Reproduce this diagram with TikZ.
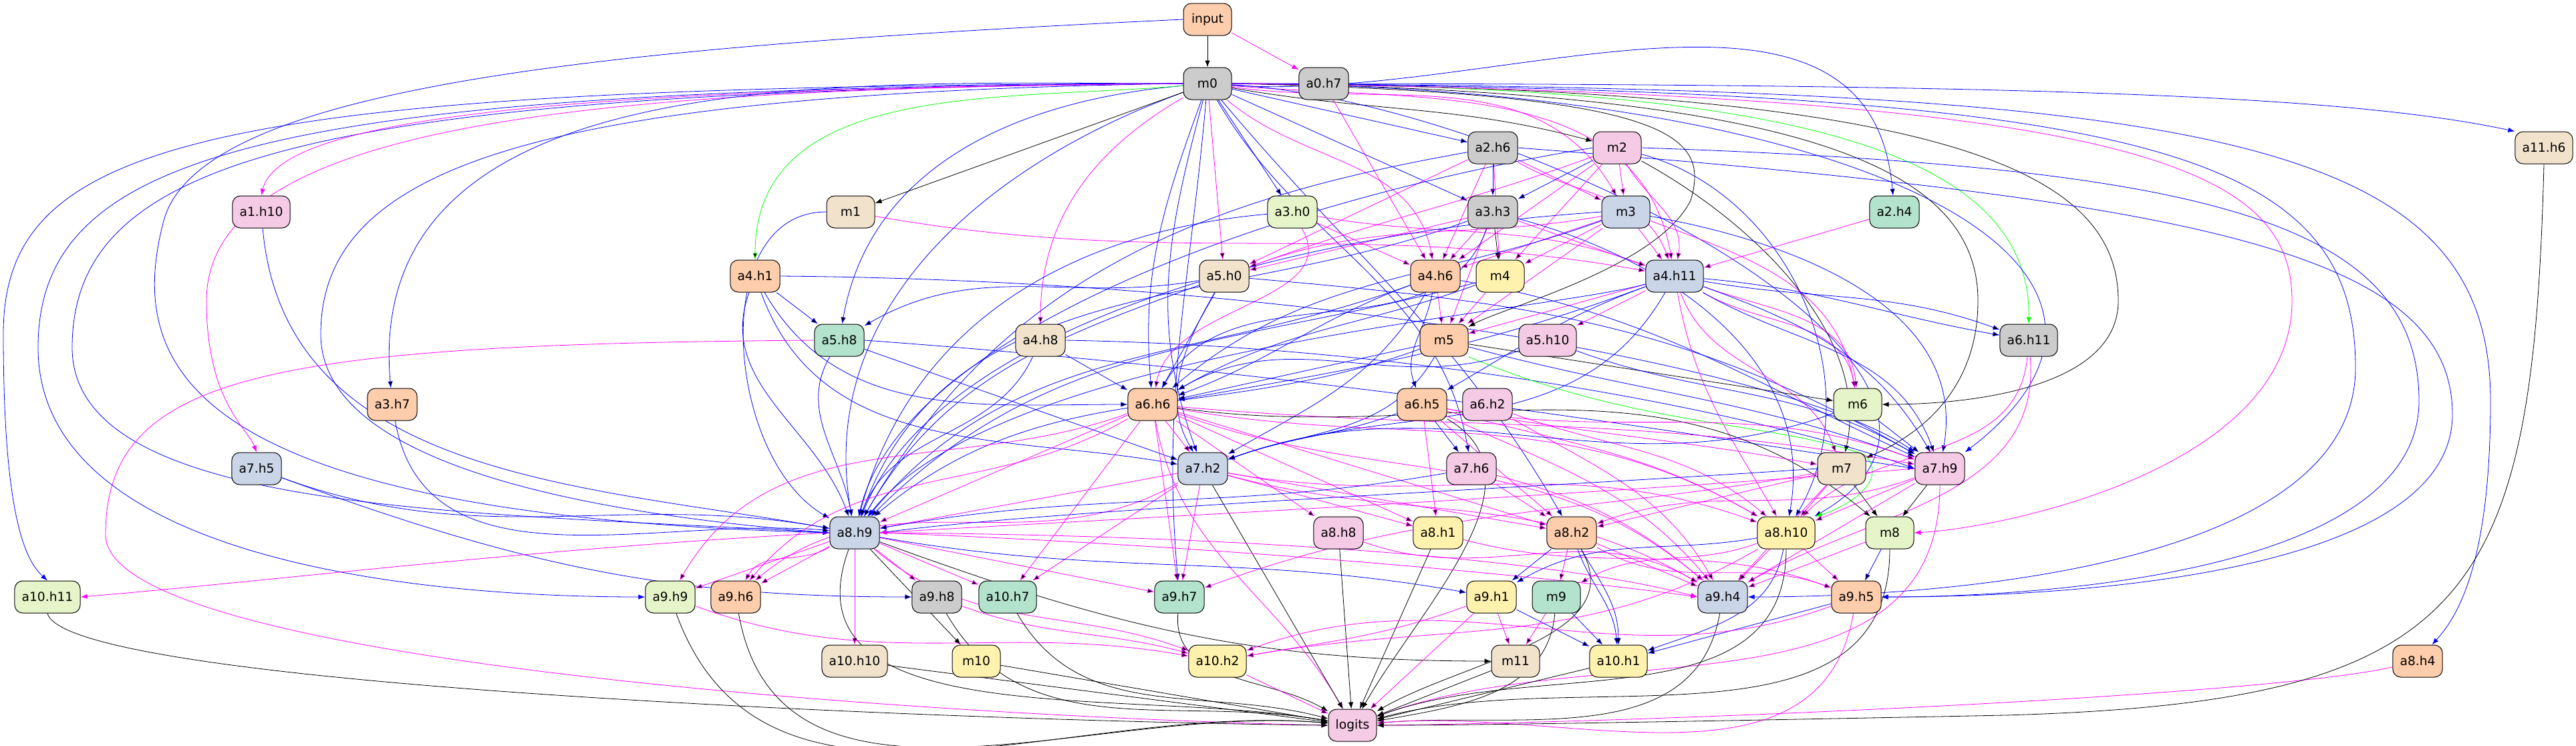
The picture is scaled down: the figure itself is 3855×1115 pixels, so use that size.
\documentclass[tikz,border=0pt]{standalone}
\usepackage{fontspec}
\setmainfont{DejaVu Sans}
\usetikzlibrary{arrows.meta, positioning, backgrounds}

\definecolor{pgreen}{HTML}{B3E2CD}
\definecolor{ppeach}{HTML}{FDCDAC}
\definecolor{pblue}{HTML}{CBD5E8}
\definecolor{ppink}{HTML}{F4CAE4}
\definecolor{plime}{HTML}{E6F5C9}
\definecolor{pyellow}{HTML}{FFF2AE}
\definecolor{ptan}{HTML}{F1E2CC}
\definecolor{pgray}{HTML}{CCCCCC}
\definecolor{eblue}{HTML}{0000FF}
\definecolor{emag}{HTML}{FF00FF}
\definecolor{egreen}{HTML}{00FF00}

\tikzset{
  box/.style={draw, rounded corners=9pt, minimum width=54pt, minimum height=36pt,
    inner xsep=8pt, line width=0.75pt, font=\fontsize{14}{16}\selectfont},
  cgreen/.style={box, fill=pgreen},
  cpeach/.style={box, fill=ppeach},
  cblue/.style={box, fill=pblue},
  cpink/.style={box, fill=ppink},
  clime/.style={box, fill=plime},
  cyellow/.style={box, fill=pyellow},
  ctan/.style={box, fill=ptan},
  cgray/.style={box, fill=pgray},
  edgebase/.style={line width=0.6pt, -{Latex[length=7.5pt,width=5.5pt]}},
  bedge/.style={edgebase, draw=eblue},
  kedge/.style={edgebase, draw=emag},
  gedge/.style={edgebase, draw=egreen},
  dedge/.style={edgebase, draw=black}
}

\begin{document}
\begin{tikzpicture}[x=0.75pt, y=-0.75pt]
  \useasboundingbox (0,0) rectangle (3855,1115);

  % rows 0-3
  \node [cpeach] (input) at (1807,29) {input};
  \node [cgray] (m0) at (1807,125) {m0};
  \node [cgray] (a0h7) at (1981,125) {a0.h7};
  \node [cgray] (a2h6) at (2234,221) {a2.h6};
  \node [cpink] (m2) at (2420,221) {m2};
  \node [ctan] (a11h6) at (3807,221) {a11.h6};
  \node [cpink] (a1h10) at (391,317) {a1.h10};
  \node [ctan] (m1) at (1273,317) {m1};
  \node [clime] (a3h0) at (1934,317) {a3.h0};
  \node [cgray] (a3h3) at (2234,317) {a3.h3};
  \node [cblue] (m3) at (2433,317) {m3};
  \node [cgreen] (a2h4) at (2835,317) {a2.h4};

  % rows 4-7
  \node [cpeach] (a4h1) at (1130,413) {a4.h1};
  \node [ctan] (a5h0) at (1832,413) {a5.h0};
  \node [cpeach] (a4h6) at (2148,413) {a4.h6};
  \node [cyellow] (m4) at (2245,413) {m4};
  \node [cblue] (a4h11) at (2506,413) {a4.h11};
  \node [cgreen] (a5h8) at (1256,509) {a5.h8};
  \node [ctan] (a4h8) at (1557,509) {a4.h8};
  \node [cpeach] (m5) at (2161,509) {m5};
  \node [cpink] (a5h10) at (2316,509) {a5.h10};
  \node [cgray] (a6h11) at (3036,509) {a6.h11};
  \node [cpeach] (a3h7) at (587,605) {a3.h7};
  \node [cpeach] (a6h6) at (1725,605) {a6.h6};
  \node [cpeach] (a6h5) at (2128,605) {a6.h5};
  \node [cpink] (a6h2) at (2226,605) {a6.h2};
  \node [clime] (m6) at (2780,605) {m6};
  \node [cblue] (a7h5) at (384,701) {a7.h5};
  \node [cblue] (a7h2) at (1800,701) {a7.h2};
  \node [cpink] (a7h6) at (2202,701) {a7.h6};
  \node [ctan] (m7) at (2756,701) {m7};
  \node [cpink] (a7h9) at (2903,701) {a7.h9};

  % rows 8-11
  \node [cblue] (a8h9) at (1279,797) {a8.h9};
  \node [cpink] (a8h8) at (2003,797) {a8.h8};
  \node [cyellow] (a8h1) at (2152,797) {a8.h1};
  \node [cpeach] (a8h2) at (2352,797) {a8.h2};
  \node [cyellow] (a8h10) at (2673,797) {a8.h10};
  \node [clime] (m8) at (2828,797) {m8};
  \node [clime] (a10h11) at (71,893) {a10.h11};
  \node [clime] (a9h9) at (1003,893) {a9.h9};
  \node [cpeach] (a9h6) at (1101,893) {a9.h6};
  \node [cgray] (a9h8) at (1402,893) {a9.h8};
  \node [cgreen] (a10h7) at (1508,893) {a10.h7};
  \node [cgreen] (a9h7) at (1765,893) {a9.h7};
  \node [cyellow] (a9h1) at (2232,893) {a9.h1};
  \node [cgreen] (m9) at (2329,893) {m9};
  \node [cblue] (a9h4) at (2578,893) {a9.h4};
  \node [cpeach] (a9h5) at (2778,893) {a9.h5};
  \node [ctan] (a10h10) at (1279,989) {a10.h10};
  \node [cyellow] (m10) at (1461,989) {m10};
  \node [cyellow] (a10h2) at (1822,989) {a10.h2};
  \node [ctan] (m11) at (2268,989) {m11};
  \node [cyellow] (a10h1) at (2422,989) {a10.h1};
  \node [cpeach] (a8h4) at (3618,989) {a8.h4};
  \node [cpink] (logits) at (2024,1085) {logits};

  \begin{pgfonlayer}{background}
  % input
  \draw [dedge] (input) -- (m0);
  \draw [kedge] (input) -- (a0h7);
  \draw [bedge] (input.west) .. controls (900,70) and (300,130) .. (245,330)
    .. controls (190,540) and (260,770) .. (a8h9.west);

  % m0, round the left side
  \draw [bedge] (m0.west) .. controls (300,128) and (5,210) .. (5,500)
    .. controls (5,780) and (40,840) .. (a10h11.north);
  \draw [bedge] (m0.west) .. controls (420,132) and (57,220) .. (57,520)
    .. controls (57,830) and (600,893) .. (a9h9.west);
  \draw [bedge] (m0.west) .. controls (480,136) and (108,230) .. (108,520)
    .. controls (108,770) and (700,765) .. (a8h9.west);
  \draw [bedge] (m0.west) .. controls (800,140) and (480,250) .. (480,500)
    .. controls (480,700) and (900,770) .. (a8h9.west);
  \draw [kedge] (m0.west) .. controls (900,132) and (420,170) .. (a1h10.north);
  \draw [kedge] (m0.west) .. controls (900,132) and (309,180) .. (309,450)
    .. controls (309,600) and (370,640) .. (a7h5.north);
  \path [bedge] (m0) edge [out=180, in=95] (a3h7)
    edge [out=185, in=80] (a5h8)
    edge [out=200, in=100] (a8h9);
  \path [kedge] (m0) edge [out=210, in=90] (a4h8)
    edge (a5h0)
    edge [out=-40, in=100] (a4h6)
    edge [out=-8, in=120] (m3)
    edge [out=-5, in=100] (a4h11);
  \path [gedge] (m0) edge [out=185, in=90] (a4h1);
  \draw [gedge] (m0.east) .. controls (2600,128) and (3040,200) .. (a6h11.north);
  \path [dedge] (m0) edge (m1) edge [out=-10, in=165] (m2);

  % m0, round the right side
  \draw [dedge] (m0.east) .. controls (2500,140) and (2560,200) .. (2530,300)
    .. controls (2480,400) and (2250,460) .. (m5);
  \draw [dedge] (m0.east) .. controls (2700,135) and (2960,250) .. (2960,450)
    .. controls (2960,600) and (2850,660) .. (m7);
  \draw [dedge] (m0.east) .. controls (2900,130) and (3170,250) .. (3170,450)
    .. controls (3170,580) and (2950,605) .. (m6.east);
  \path [bedge] (m0) edge (a2h6) edge (a3h0) edge (a3h3)
    edge [out=-4, in=95] (a2h4)
    edge [out=-3, in=30] (a8h10)
    edge [out=250, in=95] (a6h6)
    edge [out=255, in=110] (a7h2)
    edge [out=-60, in=100] (a7h6)
    edge [out=-50, in=120] (a8h2)
    edge [out=265, in=95] (a9h7);
  \draw [bedge] (m0.east) .. controls (3000,125) and (3500,140) .. (a11h6.north west);
  \draw [bedge] (m0.east) .. controls (2800,130) and (3300,400) .. (a7h9.north east);
  \draw [bedge] (m0.east) .. controls (3300,132) and (3727,200) .. (3727,600)
    .. controls (3727,860) and (3670,930) .. (a8h4);
  \draw [bedge] (m0.east) .. controls (3200,135) and (3525,220) .. (3525,550)
    .. controls (3525,850) and (2900,893) .. (a9h4.east);
  \draw [kedge] (m0.east) .. controls (3200,140) and (3430,250) .. (3430,450)
    .. controls (3430,700) and (3000,790) .. (m8.east);

  % rows 1-3
  \path [kedge] (a0h7) edge (a4h6);
  \path [bedge] (a2h6) edge (a3h3) edge [out=190, in=60] (a8h9);
  \path [kedge] (a2h6) edge (m3) edge (a4h6) edge (m4)
    edge [out=-30, in=110] (a4h11) edge (a5h0);
  \draw [bedge] (a2h6.east) .. controls (3300,300) and (3670,380) .. (3670,620)
    .. controls (3670,880) and (3000,893) .. (a9h5.east);
  \path [bedge] (m2) edge (a3h3) edge [out=-15, in=60] (a8h10);
  \draw [bedge] (m2.west) .. controls (1900,300) and (1350,500) .. (a8h9);
  \path [kedge] (m2) edge (m3) edge (m4) edge [out=-60, in=80] (a4h11)
    edge (a4h6) edge [out=200, in=20] (a5h0);
  \draw [dedge] (m2) .. controls (2620,330) and (2800,500) .. (m7);
  \draw [bedge] (m2.east) .. controls (3300,250) and (3620,330) .. (3620,600)
    .. controls (3620,870) and (3000,893) .. (a9h5.east);
  \path [bedge] (m1) edge [out=180, in=150] (a8h9);
  \path [kedge] (m1) edge [out=-10, in=170] (a4h11);
  \path [bedge] (a1h10) edge [out=-85, in=170] (a8h9);
  \path [kedge] (a3h0) edge (a4h6) edge [out=-10, in=160] (a4h11)
    edge [out=-60, in=80] (a6h6);
  \path [bedge] (a3h0) edge [out=185, in=75] (a8h9);
  \path [dedge] (a3h3) edge (m4);
  \path [kedge] (a3h3) edge (a4h6) edge (a5h0) edge (a4h11) edge (m5);
  \path [bedge] (a3h3) edge [out=200, in=70] (a8h9)
    edge [out=-110, in=60] (a6h6) edge [out=-15, in=80] (a8h10);
  \path [kedge] (m3) edge (a4h6) edge (m4) edge (a4h11)
    edge [out=190, in=20] (a5h0) edge (m5) edge [out=-20, in=100] (m6);
  \path [bedge] (m3) edge [out=-10, in=80] (a7h9) edge [out=200, in=40] (a6h6);
  \draw [bedge] (m3.west) .. controls (1900,350) and (1400,500) .. (a8h9);
  \path [kedge] (a2h4) edge (a4h11);

  % rows 4-5
  \path [bedge] (a4h1) edge (a5h8) edge [out=-60, in=180] (a6h6)
    edge [out=-70, in=170] (a7h2) edge [out=-110, in=110] (a8h9);
  \draw [bedge] (a4h1.east) .. controls (2000,420) and (2700,560) .. (a7h9.north west);
  \path [bedge] (a5h0) edge [out=190, in=30] (a5h8) edge (a6h6)
    edge [out=-120, in=120] (a7h2) edge [out=200, in=60] (a8h9)
    edge [out=-5, in=150] (a7h9);
  \path [kedge] (a4h6) edge (m5);
  \path [bedge] (a4h6) edge [out=-100, in=110] (a6h5)
    edge [out=200, in=20] (a6h6) edge [out=-120, in=30] (a7h2)
    edge [out=200, in=50] (a8h9) edge [out=-10, in=155] (a7h9);
  \path [kedge] (m4) edge (m5);
  \path [bedge] (m4) edge [out=200, in=30] (a6h6) edge [out=195, in=45] (a8h9);
  \path [kedge] (a4h11) edge (m5) edge (a5h10)
    edge [out=-30, in=100] (m6) edge [out=-20, in=95] (m6)
    edge [out=-70, in=110] (m7) edge [out=-80, in=120] (a8h10);
  \path [bedge] (a4h11) edge [out=-5, in=170] (a6h11)
    edge [out=-10, in=160] (a6h11) edge [out=200, in=30] (a6h5)
    edge [out=200, in=10] (a6h6) edge [out=-120, in=20] (a7h2)
    edge [out=-20, in=120] (a7h9) edge [out=-30, in=110] (a7h9);
  \draw [bedge] (a4h11) .. controls (2300,470) and (1500,520) .. (a8h9);
  \path [bedge] (a5h8) edge (a7h2) edge [out=-120, in=100] (a8h9);
  \draw [bedge] (a5h8.east) .. controls (2000,560) and (2600,660) .. (a7h9.west);
  \draw [kedge] (a5h8.west) .. controls (400,515) and (158,560) .. (158,800)
    .. controls (158,1000) and (1500,1075) .. (logits.west);
  \path [bedge] (a4h8) edge (a6h6) edge [out=-115, in=70] (a8h9);
  \draw [bedge] (a4h8.east) .. controls (2200,520) and (2700,640) .. (a7h9.west);
  \path [bedge] (m5) edge (a6h6) edge [out=-120, in=20] (a7h2)
    edge [out=200, in=40] (a8h9) edge [out=-15, in=160] (a7h9);
  \path [dedge] (m5) edge (m6);
  \draw [gedge] (m5.south east) .. controls (2450,640) and (2650,630) .. (2790,680)
    .. controls (2830,720) and (2760,760) .. (a8h10.north east);
  \path [bedge] (a5h10) edge [out=-20, in=150] (a7h9) edge [out=200, in=30] (a6h6);
  \path [kedge] (a6h11) edge [out=-95, in=45] (a8h10) edge [out=-85, in=30] (a9h4);

  % rows 6-7
  \path [bedge] (a3h7) edge [out=-80, in=175] (a8h9);
  \path [kedge] (a6h6) edge (a7h2) edge (a8h9) edge [out=200, in=60] (a9h9)
    edge [out=210, in=50] (a9h6) edge (a10h7) edge (a9h7) edge (a8h8)
    edge (a8h1) edge (a8h2) edge [out=-10, in=150] (a8h10)
    edge [out=-5, in=170] (a7h9) edge [out=-20, in=140] (a9h4)
    edge [out=-80, in=120] (logits);
  \path [dedge] (a6h6) edge [out=-8, in=140] (m8);
  \path [bedge] (a6h5) edge (a7h6) edge [out=200, in=20] (a7h2);
  \path [kedge] (a6h5) edge (a8h1) edge (a8h2) edge [out=-15, in=150] (a8h10)
    edge [out=-10, in=170] (m7) edge [out=-10, in=160] (a7h9)
    edge [out=-25, in=130] (a9h4);
  \path [dedge] (a6h5) edge [out=-30, in=60] (logits);
  \path [kedge] (a6h2) edge [out=-20, in=140] (a8h10) edge [out=-30, in=120] (a9h4);
  \path [bedge] (m6) edge [out=200, in=20] (a7h2) edge (a7h9);
  \path [bedge] (a7h5) edge [out=-20, in=170] (a8h9) edge [out=-20, in=180] (a9h8);
  \path [kedge] (a7h2) edge (a8h9) edge (a8h1) edge (a8h2)
    edge [out=-10, in=160] (a8h10) edge [out=210, in=40] (a9h6) edge (a10h7)
    edge (a9h7) edge [out=-15, in=150] (a9h4);
  \path [dedge] (a7h2) edge (logits);
  \path [bedge] (a7h6) edge [out=190, in=10] (a8h9);
  \path [kedge] (a7h6) edge (a8h2) edge [out=-15, in=140] (a9h4);
  \path [kedge] (m7) edge (a8h2) edge (a8h10) edge (a9h4) edge [out=190, in=20] (a9h7);
  \draw [bedge] (m7.west) .. controls (2300,730) and (1600,760) .. (a8h9.east);
  \path [dedge] (m7) edge (m8);
  \path [kedge] (a7h9) edge (a8h10) edge [out=200, in=20] (a8h2) edge (a9h4)
    edge [out=-90, in=20] (logits);
  \draw [kedge] (a7h9.west) .. controls (2400,740) and (1600,780) .. (a8h9.east);
  \path [dedge] (a7h9) edge (m8);

  % row 8
  \path [kedge] (a8h9) edge (a9h9) edge (a9h6)
    edge [out=210, in=60] (a9h6) edge (a9h8) edge (a10h7) edge (a9h7)
    edge (a10h10) edge [out=-40, in=160] (a10h2);
  \draw [kedge] (a8h9.west) .. controls (800,820) and (400,870) .. (a10h11.east);
  \draw [kedge] (a8h9.east) .. controls (1800,800) and (2300,830) .. (a9h4.west);
  \draw [kedge] (a8h9.east) .. controls (1800,815) and (2300,860) .. (a9h4.west);
  \path [bedge] (a8h9) edge [out=-10, in=170] (a9h1);
  \path [dedge] (a8h9) edge (m10) edge [out=-20, in=180] (m11)
    edge [out=-110, in=170] (logits);
  \path [dedge] (a8h8) edge (logits);
  \path [kedge] (a8h8) edge [out=-20, in=150] (a9h4);
  \path [dedge] (a8h1) edge (logits);
  \path [kedge] (a8h1) edge [out=-15, in=160] (a9h5);
  \path [bedge] (a8h2) edge (a9h1) edge [out=-70, in=95] (a10h1)
    edge [out=-60, in=90] (a10h1);
  \path [kedge] (a8h2) edge (m9) edge (a9h4) edge [out=-30, in=160] (a9h5);
  \path [dedge] (a8h2) edge [out=-60, in=30] (logits);
  \path [bedge] (a8h10) edge [out=190, in=30] (a9h1) edge [out=-100, in=20] (a10h1);
  \path [kedge] (a8h10) edge (a9h4) edge (a9h5) edge [out=200, in=30] (m9)
    edge [out=-150, in=10] (a10h2);
  \path [dedge] (a8h10) edge [out=-90, in=20] (logits);
  \path [bedge] (m8) edge (a9h5);
  \path [kedge] (m8) edge (a9h4);
  \path [dedge] (m8) edge [out=-90, in=15] (logits);

  % rows 9-10
  \draw [dedge] (a10h11.south) .. controls (100,1030) and (1500,1080) .. (logits.west);
  \path [kedge] (a9h9) edge [out=-20, in=170] (a10h2);
  \path [dedge] (a9h9) edge [out=-70, in=175] (logits);
  \path [dedge] (a9h6) edge [out=-80, in=175] (logits);
  \path [kedge] (a9h8) edge [out=-20, in=165] (a10h2);
  \path [dedge] (a9h8) edge [out=-60, in=170] (logits);
  \path [dedge] (a10h7) edge [out=-60, in=165] (logits);
  \path [dedge] (a9h7) edge [out=-95, in=150] (logits);
  \path [kedge] (a9h1) edge (m11) edge (logits) edge [out=200, in=10] (a10h2);
  \path [bedge] (a9h1) edge (a10h1);
  \path [kedge] (m9) edge (m11);
  \path [bedge] (m9) edge (a10h1);
  \path [dedge] (m9) edge [out=-95, in=10] (logits);
  \path [dedge] (a9h4) edge [out=-100, in=5] (logits);
  \path [bedge] (a9h5) edge (a10h1);
  \path [kedge] (a9h5) edge [out=-100, in=5] (logits) edge [out=200, in=20] (a10h2);
  \path [dedge] (a10h10) edge (logits);
  \path [dedge] (m10) edge (logits);
  \path [kedge] (a10h2) edge (logits);
  \path [dedge] (m11) edge (logits);
  \path [dedge] (a10h1) edge (logits);
  \draw [kedge] (a8h4) .. controls (3400,1040) and (2500,1080) .. (logits.east);
  \draw [dedge] (a11h6.south) .. controls (3790,900) and (3700,1050) .. (3000,1070)
    .. controls (2500,1080) and (2200,1085) .. (logits.east);
  \end{pgfonlayer}
\end{tikzpicture}
\end{document}
